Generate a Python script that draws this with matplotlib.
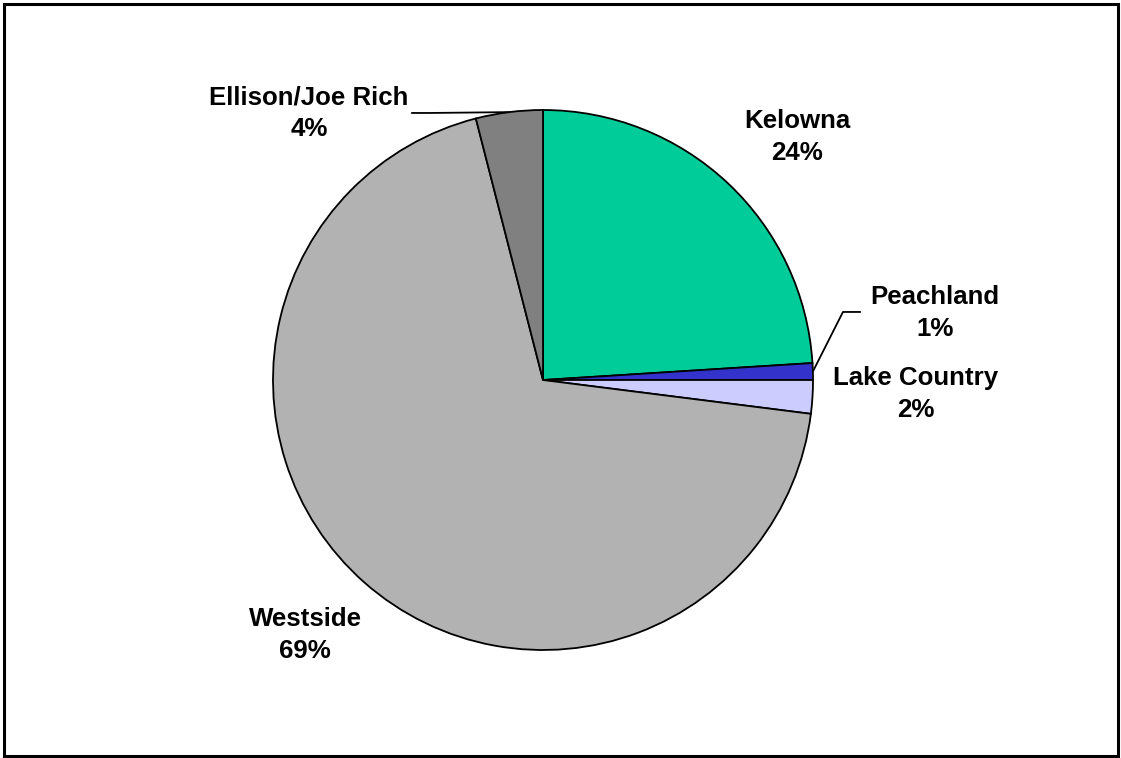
import numpy as np
import matplotlib.pyplot as plt
from matplotlib.patches import Rectangle

regions = ["Kelowna", "Peachland", "Lake Country", "Westside", "Ellison/Joe Rich"]
shares = [24, 1, 2, 69, 4]
colors = ["#00CC99", "#3333CC", "#CCCCFF", "#B2B2B2", "#808080"]

plt.rcParams['font.family'] = ['Liberation Sans', 'DejaVu Sans']

W, H = 1121, 758
fig = plt.figure(figsize=(W / 100, H / 100), dpi=100)

# pie centre (543, 380) px, radius 270 px
cx, cy, r = 543, 380, 270
ax = fig.add_axes([(cx - r) / W, (H - cy - r) / H, 2 * r / W, 2 * r / H])
wedges, _ = ax.pie(shares, colors=colors, startangle=90, counterclock=False,
                   radius=1.0, wedgeprops=dict(edgecolor="black", linewidth=1.3))
ax.set_xlim(-1, 1)
ax.set_ylim(-1, 1)
ax.set_aspect("equal")
ax.axis("off")

# label centres in units of the pie radius
label_pos = {
    "Kelowna": (0.941, 0.900),
    "Peachland": (1.452, 0.248),
    "Lake Country": (1.381, -0.052),
    "Westside": (-0.881, -0.944),
    "Ellison/Joe Rich": (-0.867, 0.989),
}
for name, val in zip(regions, shares):
    x, y = label_pos[name]
    ax.text(x, y, "%s\n%d%%" % (name, val), ha="center", va="center",
            fontsize=18.6, fontweight="bold", linespacing=1.4, clip_on=False)

# leader lines for the two small slices
elbows = {
    "Peachland": [(1.111, 0.252), (1.174, 0.252)],
    "Ellison/Joe Rich": [(-0.419, 0.989), (-0.485, 0.989)],
}
for w, name in zip(wedges, regions):
    if name not in elbows:
        continue
    mid = np.deg2rad((w.theta1 + w.theta2) / 2)
    pts = [(np.cos(mid), np.sin(mid))] + elbows[name]
    xs, ys = zip(*pts)
    ax.plot(xs, ys, color="black", lw=1.3, clip_on=False)

# chart area border
fig.patches.append(Rectangle((3.5 / W, 2 / H), (1117.5 - 3.5) / W, (754.5 - 2) / H,
                             transform=fig.transFigure, fill=False,
                             edgecolor="black", linewidth=2.2))

fig.savefig("out.png", dpi=100, facecolor="white")
